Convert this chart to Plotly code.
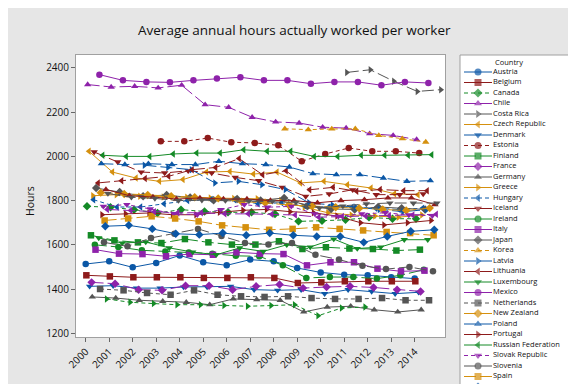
import plotly.graph_objects as go

W, H = 576, 384
N = None

years = list(range(2000, 2016))
tick_years = list(range(2000, 2015))
y_ticks = [1200, 1400, 1600, 1800, 2000, 2200, 2400]

Austria = [1513, 1525, 1498, 1518, 1552, 1521, 1507, 1533, 1525, 1495, 1475, 1465, 1462, 1453, 1447, N]
Belgium = [1462, 1457, 1453, 1453, 1453, 1450, 1450, 1453, 1450, 1427, 1430, 1435, 1435, 1435, 1435, N]
Canada = [1774, 1770, 1759, 1744, 1759, 1751, 1747, 1747, 1739, 1706, 1709, 1713, 1724, 1718, 1718, N]
Chile = [2325, 2314, 2317, 2310, 2322, 2234, 2222, 2177, 2156, 2151, 2132, 2128, 2103, 2095, 2076, N]
Costa_Rica = [N, N, N, N, N, N, N, N, N, N, N, 2380, 2392, 2340, 2294, 2302]
Czech_Republic = [2023, 1929, 1902, 1887, 1895, 1929, 1932, 1920, 1929, 1880, 1887, 1872, 1857, 1831, 1827, N]
Denmark = [1412, 1415, 1404, 1404, 1409, 1409, 1412, 1397, 1394, 1397, 1379, 1397, 1389, 1379, 1385, N]
Estonia = [N, N, N, 2068, 2068, 2083, 2064, 2061, 2050, 1978, 2011, 2038, 2023, 2023, 2015, N]
Finland = [1643, 1620, 1611, 1608, 1626, 1611, 1601, 1601, 1616, 1581, 1589, 1583, 1581, 1574, 1578, N]
France = [1430, 1424, 1397, 1394, 1415, 1415, 1397, 1412, 1420, 1404, 1409, 1412, 1407, 1397, 1389, N]
Germany = [1364, 1359, 1349, 1344, 1340, 1329, 1355, 1352, 1349, 1296, 1318, 1322, 1306, 1296, 1306, N]
Greece = [1822, 1827, 1820, 1816, 1815, 1812, 1810, 1808, 1800, 1770, 1745, 1735, 1730, 1725, 1735, N]
Hungary = [1804, 1771, 1771, 1786, 1800, 1805, 1804, 1786, 1790, 1775, 1770, 1770, 1765, 1760, 1765, N]
Iceland = [2020, 1975, 1929, 1925, 1935, 1925, 1905, 1890, 1860, 1819, 1830, 1849, 1827, 1827, 1830, N]
Ireland = [1600, 1590, 1575, 1570, 1565, 1560, 1550, 1548, 1507, 1450, 1454, 1454, 1447, 1462, 1487, N]
Italy = [1578, 1560, 1558, 1548, 1558, 1555, 1566, 1560, 1558, 1507, 1521, 1521, 1492, 1480, 1483, N]
Japan = [1857, 1839, 1820, 1825, 1814, 1802, 1807, 1801, 1812, 1775, 1762, 1760, 1771, 1765, 1760, N]
Korea = [N, N, N, N, N, N, N, N, 2125, 2121, 2124, 2125, 2095, 2080, 2065, N]
Latvia = [N, N, 1960, 1950, 1940, 1880, 1887, 1872, 1850, 1790, 1780, 1770, 1760, 1750, 1759, N]
Lithuania = [1880, 1890, 1900, 1910, 1940, 1950, 1990, 1917, 1935, 1849, 1860, 1842, 1850, 1845, 1845, N]
Luxembourg = [1631, 1608, 1613, 1586, 1567, 1555, 1586, 1570, 1600, 1590, 1626, 1583, 1590, 1623, 1623, N]
Mexico = [2370, 2344, 2337, 2335, 2344, 2352, 2358, 2344, 2344, 2329, 2337, 2337, 2322, 2337, 2332, N]
Netherlands = [1400, 1394, 1382, 1374, 1394, 1374, 1367, 1364, 1367, 1359, 1355, 1355, 1359, 1349, 1349, N]
New_Zealand = [1836, 1830, 1825, 1820, 1815, 1810, 1795, 1790, 1780, 1775, 1770, 1765, 1760, 1755, 1766, N]
Poland = [1967, 1963, 1967, 1963, 1963, 1978, 1967, 1963, 1952, 1922, 1917, 1917, 1902, 1887, 1890, N]
Portugal = [1736, 1741, 1744, 1736, 1736, 1747, 1756, 1760, 1750, 1745, 1730, 1700, 1690, 1700, 1710, N]
Russian_Federation = [2005, 2000, 2000, 2011, 2015, 2015, 2030, 2023, 2023, 2000, 2000, 2005, 2005, 2005, 2008, N]
Slovak_Republic = [1774, 1782, 1762, 1740, 1736, 1759, 1782, 1770, 1774, 1740, 1729, 1740, 1745, 1735, 1732, N]
Slovenia = [1611, 1593, 1631, 1650, 1672, 1640, 1608, 1601, 1608, 1555, 1533, 1505, 1490, 1500, 1480, N]
Spain = [1710, 1719, 1729, 1719, 1706, 1688, 1679, 1668, 1672, 1679, 1672, 1665, 1658, 1653, 1643, N]
Sweden = [1684, 1688, 1672, 1650, 1646, 1653, 1643, 1653, 1643, 1638, 1638, 1611, 1638, 1661, 1668, N]
Switzerland = [1850, 1822, 1816, 1807, 1812, 1807, 1807, 1800, 1800, 1790, 1800, 1804, 1812, 1812, 1782, N]
Turkey = [1355, 1340, 1334, 1329, 1329, 1325, 1322, 1325, 1329, 1279, 1314, 1318, N, N, N, N]
United_Kingdom = [1760, 1755, 1750, 1745, 1745, 1740, 1740, 1738, 1735, 1725, 1728, 1730, 1732, 1735, 1738, N]
United_States = [1832, 1815, 1810, 1800, 1802, 1800, 1798, 1797, 1792, 1767, 1775, 1785, 1789, 1788, 1789, N]

countries = ["Austria", "Belgium", "Canada", "Chile", "Costa Rica", "Czech Republic", "Denmark",
             "Estonia", "Finland", "France", "Germany", "Greece", "Hungary", "Iceland", "Ireland",
             "Italy", "Japan", "Korea", "Latvia", "Lithuania", "Luxembourg", "Mexico", "Netherlands",
             "New Zealand", "Poland", "Portugal", "Russian Federation", "Slovak Republic", "Slovenia",
             "Spain", "Sweden", "Switzerland", "Turkey", "United Kingdom", "United States"]
values = [Austria, Belgium, Canada, Chile, Costa_Rica, Czech_Republic, Denmark, Estonia, Finland,
          France, Germany, Greece, Hungary, Iceland, Ireland, Italy, Japan, Korea, Latvia, Lithuania,
          Luxembourg, Mexico, Netherlands, New_Zealand, Poland, Portugal, Russian_Federation,
          Slovak_Republic, Slovenia, Spain, Sweden, Switzerland, Turkey, United_Kingdom, United_States]

# ---- styles ----
colors = ["#0B57A6", "#8E1B1B", "#148A26", "#8E22AA", "#555555", "#D5900E"]
symbols = ["circle", "square", "diamond", "triangle-up", "triangle-right", "triangle-left", "triangle-down"]
dashes = ["solid", "solid", "4px,3px", "12px,4px", "12px,4px"]
DODGE = 1 / 36.0
FONT = "Open Sans, Noto Sans, sans-serif"
MSIZE = 6.5

fig = go.Figure()

for i, (name, vals) in enumerate(zip(countries, values)):
    fig.add_trace(go.Scatter(
        x=[yr + i * DODGE for yr in years], y=vals, mode="lines+markers", name=name,
        line=dict(color=colors[i % 6], width=1, dash=dashes[i % 5]),
        marker=dict(symbol=symbols[i % 7], size=MSIZE, color=colors[i % 6], line=dict(width=0)),
        showlegend=False, cliponaxis=True, xaxis="x", yaxis="y"))

# ---- hand-built legend (compact, clipped at the bottom like the original) ----
LX0, LX1, LY0, LY1 = 452, 561, 47, 379
ROW0, ROWH = 64, 10.5
rows = [ROW0 + i * ROWH for i in range(len(countries))]
for i, name in enumerate(countries):
    yy = rows[i]
    if yy - 4 > LY1:
        break
    fig.add_trace(go.Scatter(
        x=[456, 470, 484], y=[yy, yy, yy], mode="lines+markers",
        line=dict(color=colors[i % 6], width=1, dash=dashes[i % 5]),
        marker=dict(symbol=symbols[i % 7], size=[0, 7, 0], color=colors[i % 6], line=dict(width=0)),
        showlegend=False, hoverinfo="skip", cliponaxis=True, xaxis="x2", yaxis="y2"))
shown = [i for i in range(len(countries)) if rows[i] + 5 <= LY1]
fig.add_trace(go.Scatter(
    x=[485] * len(shown), y=[rows[i] for i in shown],
    text=[countries[i] for i in shown], mode="text", textposition="middle right",
    textfont=dict(family=FONT, size=7.5, color="#111111"),
    showlegend=False, hoverinfo="skip", cliponaxis=True, xaxis="x2", yaxis="y2"))

fig.update_layout(
    width=W, height=H,
    margin=dict(l=0, r=0, t=0, b=0),
    paper_bgcolor="#E6E6E6", plot_bgcolor="white",
    font=dict(family=FONT, color="#111111"),
    xaxis=dict(domain=[68 / W, 437 / W], range=[1999.587, 2015.29],
               tickmode="array", tickvals=tick_years, ticktext=[str(t) for t in tick_years],
               tickangle=-45, ticks="outside", ticklen=4, tickcolor="#666666",
               tickfont=dict(size=10, color="#111111"),
               showline=True, mirror=True, linecolor="#A0A0A0", linewidth=1,
               showgrid=False, zeroline=False, automargin=False),
    yaxis=dict(domain=[1 - 329 / H, 1 - 47 / H], range=[1182.8, 2458.8],
               tickmode="array", tickvals=y_ticks,
               ticks="outside", ticklen=4, tickcolor="#666666",
               tickfont=dict(size=10, color="#111111"),
               showline=True, mirror=True, linecolor="#A0A0A0", linewidth=1,
               showgrid=False, zeroline=False, automargin=False),
    xaxis2=dict(domain=[LX0 / W, LX1 / W], range=[LX0, LX1], visible=False, fixedrange=True),
    yaxis2=dict(domain=[1 - LY1 / H, 1 - LY0 / H], range=[LY1, LY0], visible=False, fixedrange=True),
    shapes=[dict(type="rect", xref="paper", yref="paper",
                 x0=LX0 / W, x1=LX1 / W, y0=1 - LY1 / H, y1=1 - LY0 / H,
                 line=dict(color="#A0A0A0", width=1), fillcolor="rgba(0,0,0,0)")],
    annotations=[
        dict(text="Average annual hours actually worked per worker", x=286 / W, y=1 - 22 / H,
             xref="paper", yref="paper", xanchor="center", yanchor="middle", showarrow=False,
             font=dict(size=13.5, color="#111111")),
        dict(text="Hours", x=22 / W, y=1 - 193 / H, xref="paper", yref="paper",
             xanchor="center", yanchor="middle", textangle=-90, showarrow=False,
             font=dict(size=10.5, color="#111111")),
        dict(text="Country", x=485 / W, y=1 - 54 / H, xref="paper", yref="paper",
             xanchor="left", yanchor="middle", showarrow=False,
             font=dict(size=7.5, color="#111111")),
    ],
)

fig.write_html("out.html")
